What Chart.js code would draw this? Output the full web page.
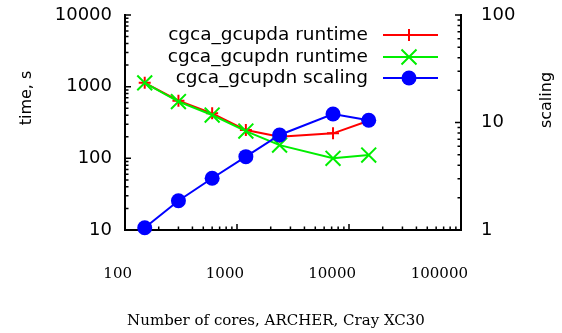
<!DOCTYPE html>
<html>
<head>
<meta charset="utf-8">
<style>
  html, body { margin: 0; padding: 0; background: #fff; }
  #wrap { width: 562px; height: 333px; position: relative; }
</style>
<script src="https://cdn.jsdelivr.net/npm/chart.js@4/dist/chart.umd.min.js"></script>
</head>
<body>
<div id="wrap"><canvas id="c" width="562" height="333"></canvas></div>
<script>
// Core counts and measured results
const cores = [150, 300, 600, 1200, 2400, 7200, 15000];
const gcupdaRuntime = [1130, 636, 425, 248, 200, 223, 334];
const gcupdnRuntime = [1130, 620, 402, 240, 153, 100, 111];
const gcupdnScaling = [1.05, 1.87, 3.03, 4.81, 7.65, 12.0, 10.5];

// Axis tick labels
const xTickValues = [100, 1000, 10000, 100000];
const timeTickValues = [10, 100, 1000, 10000];
const scalingTickValues = [1, 10, 100];

const seriesNames = ['cgca_gcupda runtime', 'cgca_gcupdn runtime', 'cgca_gcupdn scaling'];
const seriesColors = ['#ff0000', '#00ee00', '#0000ff'];
const xTitle = 'Number of cores, ARCHER, Cray XC30';
const yTitle = 'time, s';
const y2Title = 'scaling';

const SANS = '"DejaVu Sans", Verdana, sans-serif';
const SERIF = '"DejaVu Serif", Georgia, serif';

function pts(values) {
  return values.map((v, i) => ({ x: cores[i], y: v }));
}

function fixedTicks(values) {
  return scale => { scale.ticks = values.map(v => ({ value: v })); };
}

// Draw a series marker at (x, y)
function drawMarker(ctx, style, x, y, color) {
  ctx.save();
  ctx.strokeStyle = color;
  ctx.fillStyle = color;
  ctx.lineWidth = 2;
  ctx.beginPath();
  if (style === 'cross') {
    ctx.moveTo(x - 6, y); ctx.lineTo(x + 6, y);
    ctx.moveTo(x, y - 6); ctx.lineTo(x, y + 6);
    ctx.stroke();
  } else if (style === 'crossRot') {
    ctx.moveTo(x - 7.5, y - 7.5); ctx.lineTo(x + 7.5, y + 7.5);
    ctx.moveTo(x - 7.5, y + 7.5); ctx.lineTo(x + 7.5, y - 7.5);
    ctx.stroke();
  } else {
    ctx.arc(x, y, 7.5, 0, Math.PI * 2);
    ctx.fill();
  }
  ctx.restore();
}

const markerStyles = ['cross', 'crossRot', 'circle'];

// Inward log ticks on left, right and bottom axes, plus titles and key
const decorPlugin = {
  id: 'decor',
  afterDraw(chart) {
    const ctx = chart.ctx;
    const area = chart.chartArea;
    ctx.save();
    ctx.strokeStyle = '#000';
    ctx.lineWidth = 1.5;
    const logTicks = (scale, cb) => {
      const lo = Math.floor(Math.log10(scale.min));
      const hi = Math.ceil(Math.log10(scale.max));
      for (let d = lo; d <= hi; d++) {
        for (let k = 1; k <= 9; k++) {
          const v = k * Math.pow(10, d);
          if (v < scale.min * 0.999 || v > scale.max * 1.001) continue;
          cb(scale.getPixelForValue(v), k === 1 ? 6 : 3.5);
        }
      }
    };
    ctx.beginPath();
    logTicks(chart.scales.y, (p, len) => { ctx.moveTo(area.left, p); ctx.lineTo(area.left + len, p); });
    logTicks(chart.scales.y2, (p, len) => { ctx.moveTo(area.right, p); ctx.lineTo(area.right - len, p); });
    logTicks(chart.scales.x, (p, len) => { ctx.moveTo(p, area.bottom); ctx.lineTo(p, area.bottom - len); });
    ctx.stroke();

    // Axis titles
    ctx.fillStyle = '#000';
    ctx.textAlign = 'center';
    ctx.textBaseline = 'middle';
    ctx.font = '15px ' + SERIF;
    ctx.fillText(xTitle, 276, 321);
    ctx.font = '16px ' + SANS;
    ctx.save();
    ctx.translate(27, 98);
    ctx.rotate(-Math.PI / 2);
    ctx.fillText(yTitle, 0, 0);
    ctx.restore();
    ctx.save();
    ctx.translate(547, 100);
    ctx.rotate(-Math.PI / 2);
    ctx.fillText(y2Title, 0, 0);
    ctx.restore();

    // Key
    const rows = [35, 57, 78];
    ctx.font = '18.5px ' + SANS;
    ctx.textAlign = 'right';
    rows.forEach((ry, i) => {
      ctx.fillStyle = '#000';
      ctx.fillText(seriesNames[i], 368, ry);
      ctx.strokeStyle = seriesColors[i];
      ctx.lineWidth = 2;
      ctx.beginPath();
      ctx.moveTo(383, ry); ctx.lineTo(438, ry);
      ctx.stroke();
      drawMarker(ctx, markerStyles[i], 409, ry, seriesColors[i]);
    });
    ctx.restore();
  }
};

// Keep the plot box fixed: no extra room reserved for end labels
function fitVertical(width) {
  return s => { s.width = width; s.paddingTop = 0; s.paddingBottom = 0; };
}

new Chart(document.getElementById('c'), {
  type: 'scatter',
  data: {
    datasets: [
      {
        label: seriesNames[0], data: pts(gcupdaRuntime), yAxisID: 'y', order: 2,
        showLine: true, borderColor: seriesColors[0], backgroundColor: seriesColors[0],
        borderWidth: 2, pointStyle: 'cross', pointRadius: 6, pointBorderWidth: 2, clip: false
      },
      {
        label: seriesNames[1], data: pts(gcupdnRuntime), yAxisID: 'y', order: 1,
        showLine: true, borderColor: seriesColors[1], backgroundColor: seriesColors[1],
        borderWidth: 2, pointStyle: 'crossRot', pointRadius: 10.5, pointBorderWidth: 2, clip: false
      },
      {
        label: seriesNames[2], data: pts(gcupdnScaling), yAxisID: 'y2', order: 0,
        showLine: true, borderColor: seriesColors[2], backgroundColor: seriesColors[2],
        borderWidth: 2, pointStyle: 'circle', pointRadius: 7.5, pointBorderWidth: 0, clip: false
      }
    ]
  },
  options: {
    responsive: false,
    animation: false,
    devicePixelRatio: 1,
    layout: { padding: { top: 15, left: 0, right: 0, bottom: 0 } },
    plugins: { legend: { display: false }, tooltip: { enabled: false } },
    scales: {
      x: {
        type: 'logarithmic', position: 'bottom', min: 100, max: 100000,
        afterBuildTicks: fixedTicks(xTickValues),
        afterFit: s => { s.height = 103; s.paddingLeft = 0; s.paddingRight = 0; },
        grid: { display: false, drawTicks: false },
        border: { display: true, color: '#000', width: 2 },
        ticks: {
          autoSkip: false, maxRotation: 0, padding: 35, align: 'end', labelOffset: 7,
          color: '#000', font: { family: SERIF, size: 15 },
          callback: v => String(v)
        }
      },
      y: {
        type: 'logarithmic', position: 'left', min: 10, max: 10000,
        afterBuildTicks: fixedTicks(timeTickValues),
        afterFit: fitVertical(125),
        grid: { display: false, drawTicks: false },
        border: { display: true, color: '#000', width: 2 },
        ticks: {
          autoSkip: false, padding: 13, color: '#000',
          font: { family: SANS, size: 18 },
          callback: v => String(v)
        }
      },
      y2: {
        type: 'logarithmic', position: 'right', min: 1, max: 100,
        afterBuildTicks: fixedTicks(scalingTickValues),
        afterFit: fitVertical(101),
        grid: { display: false, drawTicks: false },
        border: { display: true, color: '#000', width: 2 },
        ticks: {
          autoSkip: false, padding: 20, color: '#000',
          font: { family: SANS, size: 18 },
          callback: v => String(v)
        }
      }
    }
  },
  plugins: [decorPlugin]
});
</script>
</body>
</html>
